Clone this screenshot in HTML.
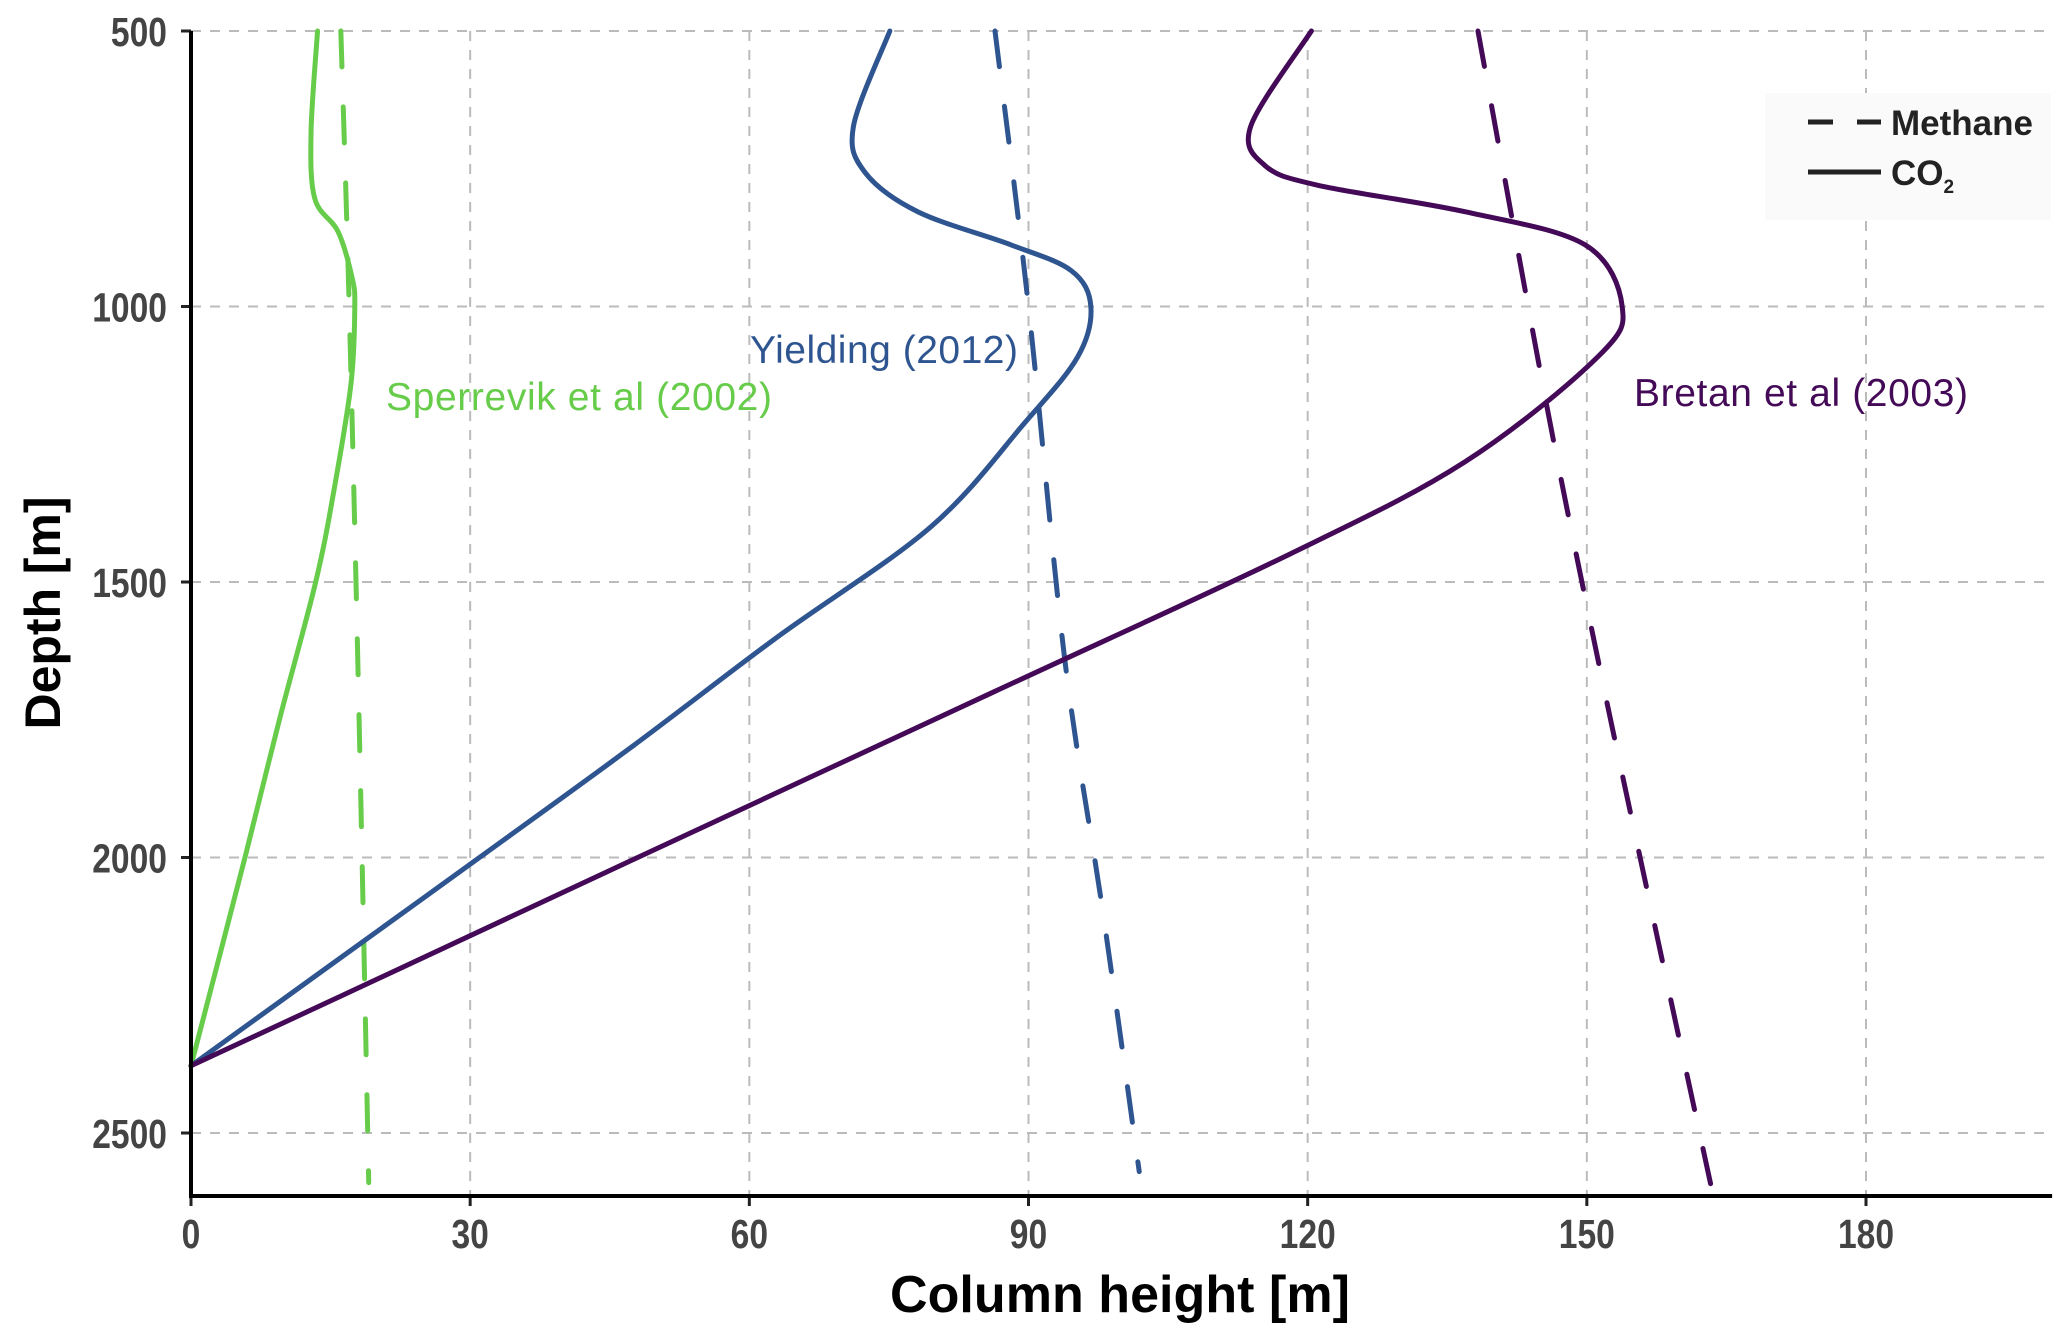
<!DOCTYPE html>
<html><head><meta charset="utf-8"><style>
html,body{margin:0;padding:0;background:#fff;}
svg{display:block;font-family:"Liberation Sans",Arial,sans-serif;}
</style></head><body>
<svg id="chart" width="2067" height="1328" viewBox="0 0 2067 1328">
<g id="grid"></g>
<g id="series"></g>
<g id="axes"></g>
<text x="750" y="363" font-size="39" fill="#2e5590" textLength="268">Yielding (2012)</text>
<text x="386" y="410" font-size="39" fill="#66cc4a" textLength="386">Sperrevik et al (2002)</text>
<text x="1634" y="406" font-size="39" fill="#440a57" textLength="334">Bretan et al (2003)</text>
<g>
<rect x="1765" y="93" width="286" height="127" fill="#fafafa"/>
<line x1="1808" y1="122" x2="1881" y2="122" stroke="#222" stroke-width="5" stroke-dasharray="25,24"/>
<text x="1891" y="135" font-size="35" font-weight="bold" fill="#222" textLength="142">Methane</text>
<line x1="1808" y1="172" x2="1881" y2="172" stroke="#222" stroke-width="5"/>
<text x="1891" y="185" font-size="35" font-weight="bold" fill="#222">CO<tspan font-size="19" dy="8">2</tspan></text>
</g>
<text x="1120" y="1312" font-size="52" font-weight="bold" text-anchor="middle" fill="#000" textLength="460">Column height [m]</text>
<text transform="translate(60,613) rotate(-90)" font-size="50" font-weight="bold" text-anchor="middle" fill="#000" textLength="233">Depth [m]</text>
</svg>
<script>
const xTicks = [0, 30, 60, 90, 120, 150, 180];
const yTicks = [500, 1000, 1500, 2000, 2500];
const greenSolidX = [13.6, 12.9, 13.3, 15.8, 17.3, 17.6, 17.2, 15.4, 13.4, 9.5, 5.8, 0];
const greenSolidD = [500, 684, 804, 864, 947, 1000, 1139, 1330, 1500, 1750, 2000, 2378];
const greenDashX = [16.1, 17.0, 18.0, 19.1];
const greenDashD = [500, 1000, 1700, 2590];
const blueSolidX = [75.1, 71.2, 72.4, 78.1, 88.1, 94.6, 96.7, 95.3, 89.6, 79.5, 63.0, 47.3, 31.0, 14.6, 0];
const blueSolidD = [500, 672, 756, 828, 888, 935, 1000, 1091, 1211, 1400, 1600, 1800, 2000, 2200, 2378];
const blueDashX = [86.4, 90.0, 93.9, 98.0, 101.9];
const blueDashD = [500, 1000, 1641, 2100, 2570];
const purpleSolidX = [120.4, 113.9, 115.4, 121.1, 136.9, 149.8, 153.8, 151.2, 136.9, 118.0, 86.2, 48.0, 16.3, 0];
const purpleSolidD = [500, 672, 744, 780, 828, 888, 1000, 1091, 1282, 1450, 1700, 2000, 2250, 2378];
const purpleDashX = [138.3, 145.5, 151.2, 157.0, 163.4];
const purpleDashD = [500, 1163, 1641, 2100, 2600];

const NS = 'http://www.w3.org/2000/svg';
const X0 = 191, XS = (1866 - 191) / 180;
const Y0 = 31, YS = 275.5 / 500;
function xs(v){ return X0 + v * XS; }
function ys(d){ return Y0 + (d - 500) * YS; }
const right = xs(200), bottom = 1196;

function mk(tag, attrs, parent){
  const el = document.createElementNS(NS, tag);
  for (const k in attrs) el.setAttribute(k, attrs[k]);
  parent.appendChild(el);
  return el;
}
const grid = document.getElementById('grid');
const axes = document.getElementById('axes');
const series = document.getElementById('series');

xTicks.forEach(t => {
  if (t > 0) {
    const g = mk('line', {x1: xs(t), x2: xs(t), y1: ys(500), y2: bottom, stroke: '#bbb', 'stroke-width': 2, 'stroke-dasharray': '10,9'}, grid);
    
    
  }
  const tk = mk('line', {x1: xs(t), x2: xs(t), y1: bottom, y2: bottom + 10, stroke: '#222', 'stroke-width': 3}, axes);
  
  
  const lb = mk('text', {transform: 'translate(' + xs(t) + ',1248) scale(0.82,1)', 'font-size': 41, 'font-weight': 'bold', fill: '#444', 'text-anchor': 'middle'}, axes);
  lb.textContent = t;
  
  
});
yTicks.forEach(t => {
  const g = mk('line', {x1: X0, x2: right, y1: ys(t), y2: ys(t), stroke: '#bbb', 'stroke-width': 2, 'stroke-dasharray': '10,9'}, grid);
  
  
  const tk = mk('line', {x1: X0 - 10, x2: X0, y1: ys(t), y2: ys(t), stroke: '#222', 'stroke-width': 3}, axes);
  
  
  const lb = mk('text', {transform: 'translate(167,' + (ys(t) + 15) + ') scale(0.82,1)', 'font-size': 41, 'font-weight': 'bold', fill: '#444', 'text-anchor': 'end'}, axes);
  lb.textContent = t;
  
  
});
const ya = mk('line', {x1: X0, x2: X0, y1: ys(500), y2: bottom + 2, stroke: '#000', 'stroke-width': 4}, axes);


const xa = mk('line', {x1: X0 - 2, x2: right, y1: bottom, y2: bottom, stroke: '#000', 'stroke-width': 4}, axes);



function pathFrom(xv, dv){
  const p = xv.map((v, i) => [xs(v), ys(dv[i])]);
  let s = 'M' + p[0][0] + ',' + p[0][1];
  for (let i = 0; i < p.length - 1; i++) {
    const p0 = p[Math.max(0, i - 1)], p1 = p[i], p2 = p[i + 1], p3 = p[Math.min(p.length - 1, i + 2)];
    const c1 = [p1[0] + (p2[0] - p0[0]) / 6, p1[1] + (p2[1] - p0[1]) / 6];
    const c2 = [p2[0] - (p3[0] - p1[0]) / 6, p2[1] - (p3[1] - p1[1]) / 6];
    s += 'C' + c1[0] + ',' + c1[1] + ' ' + c2[0] + ',' + c2[1] + ' ' + p2[0] + ',' + p2[1];
  }
  return s;
}
function draw(xv, dv, color, dashed, name){
  const el = mk('path', {d: pathFrom(xv, dv), fill: 'none', stroke: color, 'stroke-width': 5, 'stroke-linecap': 'round'}, series);
  if (dashed) el.setAttribute('stroke-dasharray', '36,40');
  
  
}
draw(greenDashX, greenDashD, '#66cc4a', true, 'sperrevik-methane-line');
draw(greenSolidX, greenSolidD, '#66cc4a', false, 'sperrevik-co2-line');
draw(blueDashX, blueDashD, '#2e5590', true, 'yielding-methane-line');
draw(blueSolidX, blueSolidD, '#2e5590', false, 'yielding-co2-line');
draw(purpleDashX, purpleDashD, '#440a57', true, 'bretan-methane-line');
draw(purpleSolidX, purpleSolidD, '#440a57', false, 'bretan-co2-line');
</script>
</body></html>
